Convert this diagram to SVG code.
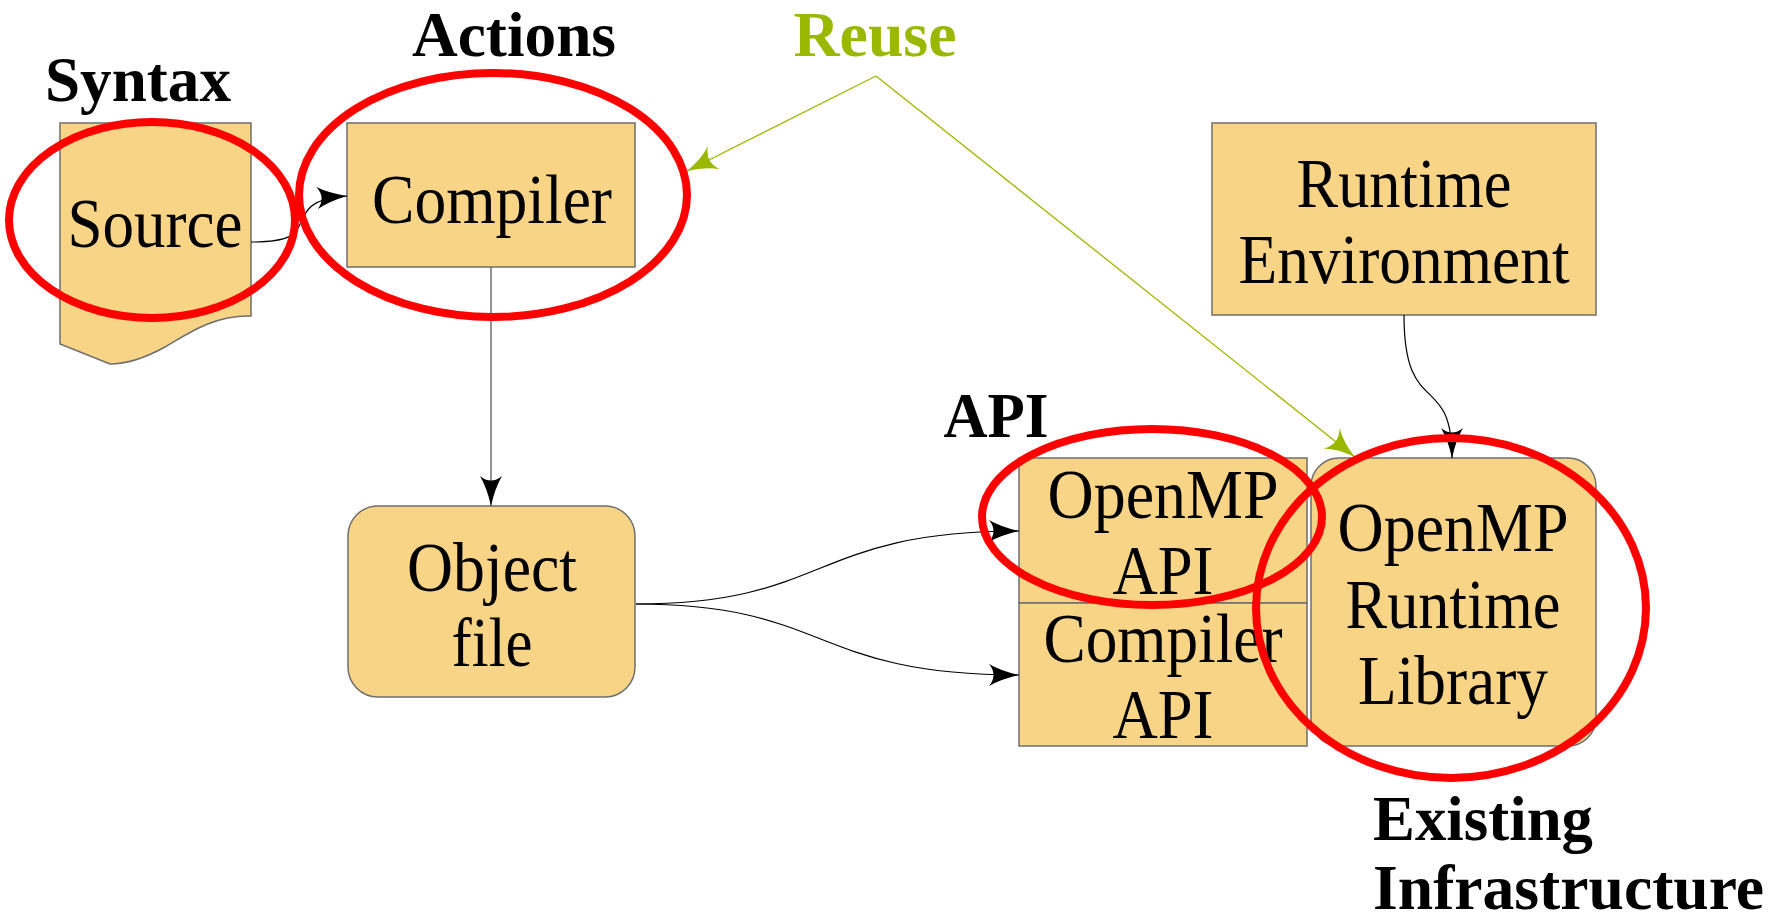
<svg xmlns="http://www.w3.org/2000/svg" width="1784" height="923" viewBox="0 0 1784 923">
<style>
.box{fill:#F7D486;stroke:#6e6e6e;stroke-width:1.5}
.t{font-family:"Liberation Serif","Times New Roman",serif;font-size:69px;fill:#000;text-anchor:middle}
.b{font-family:"Liberation Serif","Times New Roman",serif;font-size:64px;font-weight:bold;fill:#000}
.ring{fill:none;stroke:#FF0000;stroke-width:8}
.conn{fill:none;stroke:#000;stroke-width:1.2}
.grey{fill:none;stroke:#6e6e6e;stroke-width:1.5}
.green{fill:none;stroke:#9AB800;stroke-width:1.3}
</style>
<defs>
<marker id="ah" markerWidth="32" markerHeight="22" refX="30" refY="11" orient="auto" markerUnits="userSpaceOnUse">
<path d="M0,0 Q12,7 30,11 Q12,15 0,22 Q9,11 0,0 Z" fill="#000"/>
</marker>
<marker id="gh" markerWidth="32" markerHeight="26" refX="30" refY="13" orient="auto" markerUnits="userSpaceOnUse">
<path d="M0,0 Q12,9 30,13 Q12,17 0,26 Q10,13 0,0 Z" fill="#9AB800"/>
</marker>
</defs>
<rect width="1784" height="923" fill="#fff"/>

<g id="labels">
<text class="b" x="138" y="101" text-anchor="middle" textLength="186" lengthAdjust="spacingAndGlyphs">Syntax</text>
<text class="b" x="514" y="56" text-anchor="middle" textLength="204" lengthAdjust="spacingAndGlyphs">Actions</text>
<text class="b" x="875" y="56" text-anchor="middle" style="fill:#9AB800" textLength="163" lengthAdjust="spacingAndGlyphs">Reuse</text>
<text class="b" x="996" y="437" text-anchor="middle" textLength="105" lengthAdjust="spacingAndGlyphs">API</text>
<text class="b" x="1373" y="840" textLength="220" lengthAdjust="spacingAndGlyphs">Existing</text>
<text class="b" x="1373" y="909" textLength="391" lengthAdjust="spacingAndGlyphs">Infrastructure</text>
</g>

<g id="source">
<path class="box" d="M60,123 H251 V316 C215,315 190,332 165,347 C145,358 125,364 110,364 L60,344 Z"/>
<text class="t" x="155" y="247" textLength="175" lengthAdjust="spacingAndGlyphs">Source</text>
</g>

<g id="compiler">
<rect class="box" x="347" y="123" width="288" height="144"/>
<text class="t" x="492" y="223" textLength="240" lengthAdjust="spacingAndGlyphs">Compiler</text>
</g>

<g id="object-file">
<rect class="box" x="348" y="506" width="287" height="191" rx="30" ry="30"/>
<text class="t" x="492" y="591" textLength="170" lengthAdjust="spacingAndGlyphs">Object</text>
<text class="t" x="492" y="666" textLength="81" lengthAdjust="spacingAndGlyphs">file</text>
</g>

<g id="openmp-api">
<rect class="box" x="1019" y="458" width="288" height="145"/>
<text class="t" x="1163" y="518" textLength="231" lengthAdjust="spacingAndGlyphs">OpenMP</text>
<text class="t" x="1163" y="594" textLength="101" lengthAdjust="spacingAndGlyphs">API</text>
</g>

<g id="compiler-api">
<rect class="box" x="1019" y="603" width="288" height="143"/>
<text class="t" x="1163" y="662" textLength="239" lengthAdjust="spacingAndGlyphs">Compiler</text>
<text class="t" x="1163" y="738" textLength="101" lengthAdjust="spacingAndGlyphs">API</text>
</g>

<g id="runtime-library">
<rect class="box" x="1311" y="458" width="285" height="288" rx="28" ry="28"/>
<text class="t" x="1453" y="551" textLength="231" lengthAdjust="spacingAndGlyphs">OpenMP</text>
<text class="t" x="1453" y="628" textLength="215" lengthAdjust="spacingAndGlyphs">Runtime</text>
<text class="t" x="1453" y="704" textLength="190" lengthAdjust="spacingAndGlyphs">Library</text>
</g>

<g id="runtime-environment">
<rect class="box" x="1212" y="123" width="384" height="192"/>
<text class="t" x="1404" y="207" textLength="215" lengthAdjust="spacingAndGlyphs">Runtime</text>
<text class="t" x="1404" y="283" textLength="331" lengthAdjust="spacingAndGlyphs">Environment</text>
</g>

<g id="connectors">
<path class="conn" d="M251,242 C290,242 296,235 302,220 C308,205 318,198 347,196" marker-end="url(#ah)"/>
<path class="grey" d="M491,267 V506" marker-end="url(#ah)"/>
<path class="conn" d="M636,604 C830,604 810,531 1019,531" marker-end="url(#ah)"/>
<path class="conn" d="M636,604 C830,604 810,675 1019,675" marker-end="url(#ah)"/>
<path class="conn" d="M1404,315 C1404,420 1452,370 1452,458" marker-end="url(#ah)"/>
<path class="green" d="M876,76 L687,171" marker-end="url(#gh)"/>
<path class="green" d="M876,76 L1355,457" marker-end="url(#gh)"/>
</g>

<g id="highlights">
<ellipse class="ring" cx="152" cy="220" rx="143" ry="98"/>
<ellipse class="ring" cx="493" cy="195" rx="194" ry="122"/>
<ellipse class="ring" cx="1152" cy="517" rx="170" ry="88"/>
<ellipse class="ring" cx="1451" cy="608" rx="195" ry="170"/>
</g>
</svg>
